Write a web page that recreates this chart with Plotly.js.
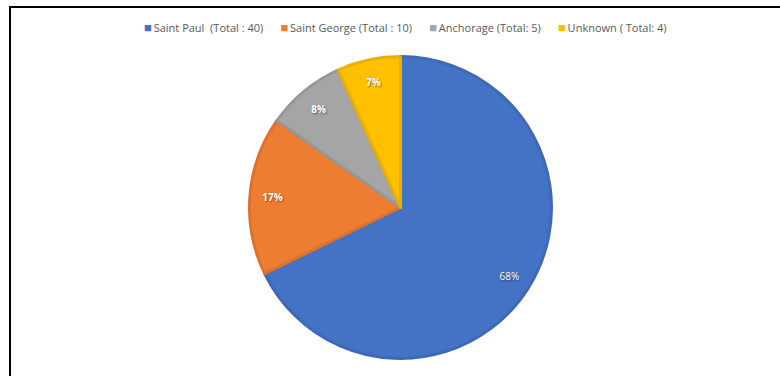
<!DOCTYPE html>
<html>
<head>
<meta charset="utf-8">
<script src="https://cdn.plot.ly/plotly-3.0.1.min.js"></script>
<style>html,body{margin:0;padding:0;background:#fff;}#chart{width:780px;height:376px;}</style>
</head>
<body>
<div id="chart"></div>
<script>
var categories = ["Saint Paul\u00a0\u00a0(Total : 40)", "Saint George (Total : 10)", "Anchorage (Total:\u00a05)", "Unknown ( Total:\u00a04)"];
var values = [40, 10, 5, 4];
var colors = ["#4472C4", "#ED7D31", "#A5A5A5", "#FFC000"];
var borderColors = ["#3E69B6", "#D9732D", "#979797", "#E9B000"];
var labelWeights = ["normal", "bold", "bold", "bold"];

var W = 780, H = 376;
var cx = 400.5, cy = 207.5, r = 151;
var dom = {
  x: [(cx - (W - cx)) / W, 1],
  y: [(H - (cy + r)) / H, (H - (cy - r)) / H]
};

var pieTrace = {
  type: "pie",
  labels: categories,
  values: values,
  sort: false,
  direction: "clockwise",
  rotation: 0,
  domain: dom,
  marker: { colors: colors, line: { color: borderColors, width: 3 } },
  textinfo: "none",
  hoverinfo: "label+percent",
  showlegend: false
};

var labelTrace = {
  type: "pie",
  labels: categories,
  values: values,
  sort: false,
  direction: "clockwise",
  rotation: 0,
  hole: 0.7,
  domain: dom,
  marker: { colors: ["rgba(0,0,0,0)","rgba(0,0,0,0)","rgba(0,0,0,0)","rgba(0,0,0,0)"], line: { width: 0 } },
  texttemplate: "%{percent:.0%}",
  textposition: "inside",
  insidetextorientation: "horizontal",
  textfont: { color: "#ffffff", size: 10, family: "Open Sans, sans-serif", weight: labelWeights, shadow: "1px 1px 2px rgba(0,0,0,0.45)" },
  hoverinfo: "skip",
  showlegend: false
};

// legend built from the category names and colours
var legendText = categories.map(function (c, i) {
  return '<span style="color:' + colors[i] + ';font-size:13px">\u25A0</span>\u2009' + c;
}).join("\u00a0\u00a0\u00a0\u00a0\u00a0\u00a0");

var layout = {
  width: W, height: H,
  margin: { l: 0, r: 0, t: 0, b: 0 },
  paper_bgcolor: "#ffffff",
  showlegend: false,
  annotations: [
    { xref: "paper", yref: "paper", x: 405 / W, y: 1 - 26.5 / H,
      xanchor: "center", yanchor: "middle", showarrow: false,
      text: legendText,
      font: { family: "Open Sans, sans-serif", size: 11, color: "#595959" } }
  ],
  shapes: [
    { type: "path", xref: "paper", yref: "paper",
      path: "M " + (10 / W) + " 0 L " + (10 / W) + " " + (1 - 7 / H) + " L 1 " + (1 - 7 / H),
      line: { color: "#000000", width: 2 } }
  ]
};

Plotly.newPlot("chart", [pieTrace, labelTrace], layout, { displayModeBar: false, staticPlot: true });
</script>
</body>
</html>
